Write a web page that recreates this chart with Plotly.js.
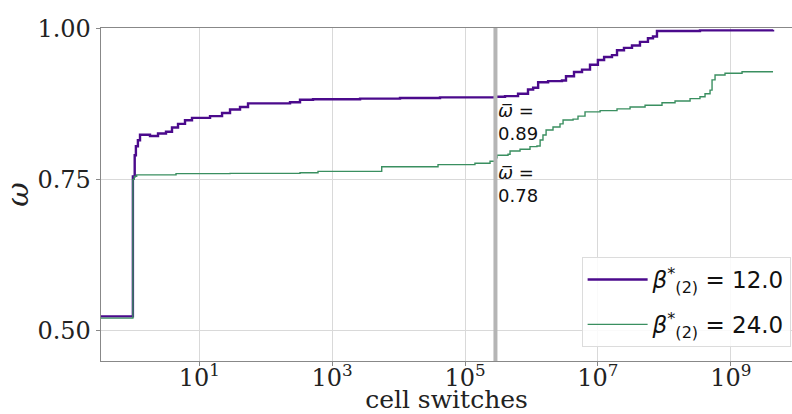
<!DOCTYPE html>
<html><head><meta charset="utf-8">
<script src="https://cdn.plot.ly/plotly-3.0.1.min.js"></script>
<style>html,body{margin:0;padding:0;background:#fff;overflow:hidden}</style>
</head><body><div id="chart" style="width:792px;height:414px"></div>
<script>
// beta*(2) = 12.0
const x12 = [0.331, 1.0, 1.065, 1.11, 1.19, 1.28, 1.81, 2.39, 3.15, 3.88, 4.78, 6.09, 7.76, 14.5, 22.0, 29.0, 41.0, 54.1, 232, 328, 515, 2630, 10500, 42000, 168000, 283000, 400000, 628000, 887000, 1.06e6, 1.26e6, 1.78e6, 2.88e6, 3.31e6, 4.37e6, 5.77e6, 7.61e6, 1.0e7, 1.24e7, 1.63e7, 1.94e7, 2.47e7, 3.26e7, 4.30e7, 5.67e7, 6.75e7, 7.75e7, 3.44e8, 4.33e9];
const y12 = [0.523, 0.755, 0.790, 0.805, 0.815, 0.824, 0.822, 0.826, 0.829, 0.836, 0.842, 0.848, 0.852, 0.855, 0.860, 0.866, 0.870, 0.876, 0.878, 0.882, 0.883, 0.884, 0.885, 0.886, 0.886, 0.887, 0.888, 0.892, 0.899, 0.902, 0.911, 0.913, 0.914, 0.921, 0.928, 0.932, 0.940, 0.948, 0.953, 0.956, 0.964, 0.968, 0.972, 0.978, 0.984, 0.987, 0.996, 0.997, 0.998];
// beta*(2) = 24.0
const x24 = [0.331, 1.0, 1.05, 1.14, 4.46, 29.0, 328, 612, 5570, 39200, 141000, 238000, 283000, 303000, 444000, 476000, 673000, 951000, 1.21e6, 1.35e6, 1.49e6, 1.66e6, 2.11e6, 2.69e6, 2.99e6, 4.23e6, 5.02e6, 6.40e6, 1.08e7, 1.94e7, 3.05e7, 5.13e7, 9.23e7, 1.45e8, 2.44e8, 3.44e8, 4.10e8, 4.88e8, 5.23e8, 5.80e8, 8.20e8, 1.48e9, 4.33e9];
const y24 = [0.520, 0.750, 0.755, 0.7575, 0.7596, 0.760, 0.761, 0.7634, 0.771, 0.7745, 0.7768, 0.780, 0.786, 0.790, 0.7917, 0.797, 0.800, 0.8043, 0.8055, 0.8154, 0.8237, 0.832, 0.837, 0.842, 0.8485, 0.850, 0.855, 0.862, 0.864, 0.867, 0.870, 0.873, 0.877, 0.880, 0.884, 0.887, 0.892, 0.898, 0.915, 0.923, 0.926, 0.9285, 0.9285];

const seriesNames = ['<i>β</i><sup>*</sup><sub>(2)</sub> = 12.0', '<i>β</i><sup>*</sup><sub>(2)</sub> = 24.0'];
const markerX = 2.87e5;
const meanLabels = ['0.89', '0.78'];
const meanPos = [0.845, 0.742];
const xTickVals = [1e1, 1e3, 1e5, 1e7, 1e9];
const xTickText = ['10<sup>1</sup>', '10<sup>3</sup>', '10<sup>5</sup>', '10<sup>7</sup>', '10<sup>9</sup>'];
const yTickVals = [0.5, 0.75, 1.0];
const yTickText = ['0.50', '0.75', '1.00'];

const traces = [
  {x: x12, y: y12, name: seriesNames[0], legendgroup: 'a', mode: 'lines', line: {color: '#4b0a8c', width: 2.4, shape: 'hv'}},
  {x: x24, y: y24, name: seriesNames[1], legendgroup: 'b', mode: 'lines', line: {color: '#3a8f60', width: 1.4, shape: 'hv'}}
];

const serif = 'DejaVu Serif, serif';
const layout = {
  width: 792, height: 414,
  margin: {l: 101, r: 0, t: 28, b: 53},
  paper_bgcolor: '#fff', plot_bgcolor: '#fff',
  showlegend: true,
  xaxis: {
    type: 'log', range: [-0.480, 9.922],
    tickvals: xTickVals, ticktext: xTickText,
    tickfont: {family: serif, size: 24, color: '#222'},
    showgrid: true, gridcolor: '#d9d9d9', gridwidth: 1,
    showline: true, linecolor: '#888', linewidth: 1.3, mirror: true,
    ticks: 'outside', ticklen: 4, tickcolor: '#888',
    ticklabelstandoff: -9,
    zeroline: false,
    title: {text: 'cell switches', font: {family: serif, size: 25, color: '#222'}, standoff: 8}
  },
  yaxis: {
    range: [0.449, 1.001],
    tickvals: yTickVals, ticktext: yTickText,
    tickfont: {family: serif, size: 24, color: '#222'},
    showgrid: true, gridcolor: '#d9d9d9', gridwidth: 1,
    showline: true, linecolor: '#888', linewidth: 1.3,
    ticks: 'outside', ticklen: 4, tickcolor: '#888',
    zeroline: false,
    title: {text: '<i>ω</i>', font: {family: serif, size: 30, color: '#222'}, standoff: 14}
  },
  legend: {
    x: 0.998, xanchor: 'right', y: 0.042, yanchor: 'bottom',
    bgcolor: 'rgba(255,255,255,0.85)', bordercolor: '#dcdcdc', borderwidth: 1,
    font: {family: 'DejaVu Sans, sans-serif', size: 23, color: '#111'},
    itemwidth: 60, tracegroupgap: 12
  },
  shapes: [{
    type: 'line', xref: 'x', yref: 'paper',
    x0: markerX, x1: markerX, y0: 0, y1: 1,
    line: {color: '#b5b5b5', width: 4}, layer: 'above'
  }],
  annotations: meanLabels.map((t, i) => ({
    xref: 'x', yref: 'y', x: Math.log10(markerX), y: meanPos[i],
    xanchor: 'left', yanchor: 'middle', xshift: 1, showarrow: false, align: 'left',
    text: '<i>ω̅</i> =<br>' + t,
    font: {family: 'DejaVu Sans, sans-serif', size: 18, color: '#111'}
  }))
};

Plotly.newPlot('chart', traces, layout, {displayModeBar: false, staticPlot: true});
</script></body></html>
